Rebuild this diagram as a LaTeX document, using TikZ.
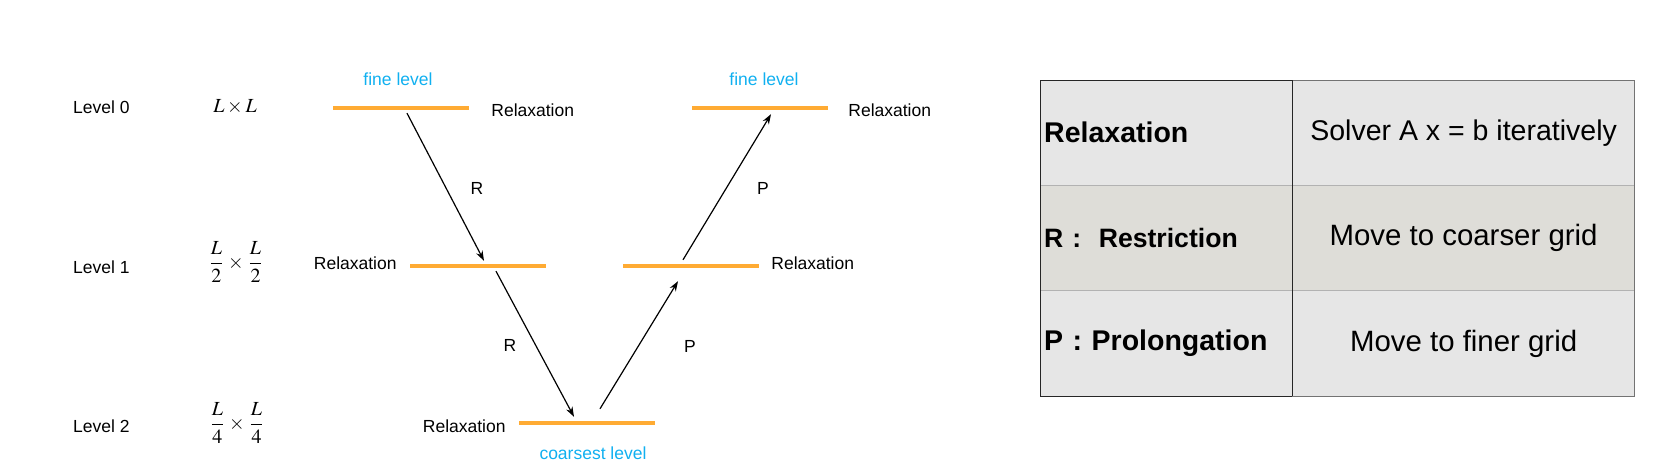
\documentclass[tikz,border=0pt]{standalone}
\usepackage{mathptmx}
\usepackage[no-math]{fontspec}
\setmainfont{Liberation Sans}
\RequirePackage{xcolor}
\definecolor{barorange}{RGB}{255,171,51}
\definecolor{levelblue}{RGB}{16,176,240}
\definecolor{rowgray}{RGB}{230,230,230}
\definecolor{rowbeige}{RGB}{222,221,216}
\usetikzlibrary{positioning,arrows.meta}
\newcommand{\smallfont}{\fontsize{17.5}{21}\selectfont}
\newcommand{\tablefont}{\fontsize{28.5}{33}\selectfont}
\newcommand{\mathfont}{\fontsize{20}{24}\selectfont}

\begin{document}
\begin{tikzpicture}[x=1pt,y=-1pt,
  every node/.style={inner sep=0pt, font=\smallfont},
  bar/.style={fill=barorange, minimum width=136pt, minimum height=4pt},
  arr/.style={-{Stealth[length=10pt,width=7pt]}, line width=1.2pt},
  lvl/.style={text=levelblue},
  cellL/.style={minimum height=105pt, text width=244pt, inner xsep=4pt, align=left, font=\tablefont\bfseries},
  cellR/.style={minimum height=105pt, minimum width=342pt, align=center, font=\tablefont}]
  \useasboundingbox (0,0) rectangle (1661,474);

  \node [anchor=west] (level0) at (73,107) {Level 0};
  \node [anchor=west] (level1) at (73,267) {Level 1};
  \node [anchor=west] (level2) at (73,426) {Level 2};

  \node [font=\mathfont] (size0) at (235,107) {$L\times L$};
  \node [font=\mathfont] (size1) at (236,262) {$\displaystyle\frac{L}{2}\mkern2mu\times\mkern2mu\frac{L}{2}$};
  \node [font=\mathfont] (size2) at (237,423) {$\displaystyle\frac{L}{4}\mkern2mu\times\mkern2mu\frac{L}{4}$};

  \node [bar] (b0l) at (401,108) {};
  \node [bar] (b1l) at (478,266) {};
  \node [bar] (b2) at (587,423) {};
  \node [bar] (b1r) at (691,266) {};
  \node [bar] (b0r) at (760,108) {};

  \node [lvl, above=20pt of b0l, xshift=-3pt] (fine0) {fine level};
  \node [lvl, above=20pt of b0r, xshift=4pt] (fine1) {fine level};
  \node [lvl, below=21pt of b2, xshift=6pt] (coarsest) {coarsest level};

  \node [right=22pt of b0l, yshift=-2pt] (relax0l) {Relaxation};
  \node [right=20pt of b0r, yshift=-2pt] (relax0r) {Relaxation};
  \node [left=13pt of b1l, yshift=3pt] (relax1l) {Relaxation};
  \node [right=12pt of b1r, yshift=3pt] (relax1r) {Relaxation};
  \node [left=13pt of b2, yshift=-3pt] (relax2) {Relaxation};

  \draw [arr] ([xshift=6pt,yshift=-3pt]b0l.south) -- ([xshift=6pt,yshift=3pt]b1l.north);
  \draw [arr] ([xshift=18pt,yshift=-3pt]b1l.south) -- ([xshift=-13pt,yshift=4pt]b2.north);
  \draw [arr] ([xshift=13pt,yshift=12pt]b2.north) -- ([xshift=-13pt,yshift=-13pt]b1r.south);
  \draw [arr] ([xshift=-8pt,yshift=4pt]b1r.north) -- ([xshift=11pt,yshift=-4pt]b0r.south);

  \node (r1) at (477,188) {R};
  \node (r2) at (510,345) {R};
  \node (p1) at (763,188) {P};
  \node (p2) at (690,346) {P};

  \node [cellL, fill=rowgray, anchor=north west] (c11) at (1040,80) {Relaxation};
  \node [cellL, fill=rowbeige, below=0pt of c11, font=\fontsize{26.6}{31}\selectfont\bfseries] (c21) {R :\ \ Restriction};
  \node [cellL, fill=rowgray, below=0pt of c21] (c31) {P : Prolongation};
  \node [cellR, fill=rowgray, right=0pt of c11] (c12) {Solver A x = b iteratively};
  \node [cellR, fill=rowbeige, right=0pt of c21, font=\fontsize{29.4}{34}\selectfont] (c22) {Move to coarser grid};
  \node [cellR, fill=rowgray, right=0pt of c31, font=\fontsize{29.4}{34}\selectfont] (c32) {Move to finer grid};

  \draw [line width=1pt, black!30] (c11.south west) -- (c22.north east) (c21.south west) -- (c32.north east);
  \draw [line width=1pt, black!55] (c12.north west) -- (c12.north east) -- (c32.south east) -- (c32.south west);
  \draw [line width=1pt, black!85] (c12.north west) -- (c11.north west) -- (c31.south west) -- (c32.south west);
  \draw [line width=1pt, black!85] (c12.north west) -- (c32.south west);
\end{tikzpicture}
\end{document}
